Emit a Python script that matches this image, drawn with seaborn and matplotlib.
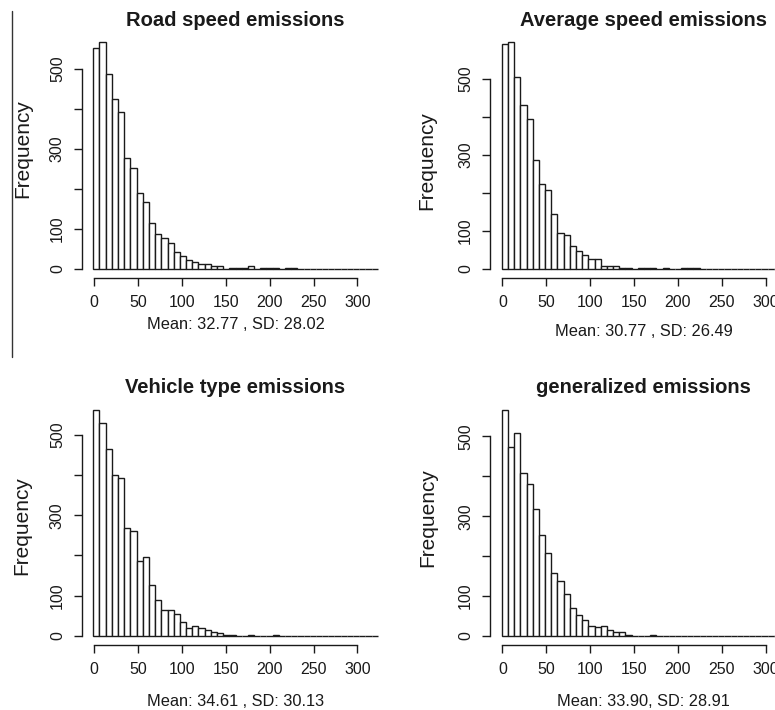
import numpy as np
import pandas as pd
import matplotlib
matplotlib.use("Agg")
import matplotlib.pyplot as plt
from matplotlib.lines import Line2D
import seaborn as sns

# ---------------- data (counts per bin) ----------------
titles = ["Road speed emissions", "Average speed emissions",
          "Vehicle type emissions", "generalized emissions"]
stats_text = ["Mean: 32.77 , SD: 28.02", "Mean: 30.77 , SD: 26.49",
              "Mean: 34.61 , SD: 30.13", "Mean: 33.90, SD: 28.91"]

road_speed = [554, 567, 487, 425, 392, 278, 253, 189, 166, 114, 87, 77, 64, 42,
              33, 23, 18, 12, 12, 6, 6, 0, 2, 2, 2, 6, 0, 2, 2, 2, 0, 2, 2,
              0, 0, 0, 0, 0, 0, 0, 0, 0, 0, 0, 0, 0]
average_speed = [590, 595, 503, 431, 394, 285, 222, 207, 144, 95, 88, 61, 47, 37,
                 26, 26, 8, 8, 8, 2, 2, 0, 2, 1, 2, 0, 2, 0, 0, 2, 2, 2,
                 0, 0, 0, 0, 0, 0, 0, 0, 0, 0, 0, 0, 0, 0]
vehicle_type = [562, 530, 465, 401, 392, 267, 260, 186, 197, 126, 90, 64, 64, 55,
                36, 19, 26, 19, 14, 10, 7, 2, 2, 0, 0, 2, 0, 0, 0, 2,
                0, 0, 0, 0, 0, 0, 0, 0, 0, 0, 0, 0, 0, 0, 0, 0]
generalized = [567, 473, 509, 408, 382, 319, 254, 208, 157, 138, 106, 71, 52, 41,
               26, 22, 26, 16, 9, 9, 3, 0, 0, 0, 3,
               0, 0, 0, 0, 0, 0, 0, 0, 0, 0, 0, 0, 0, 0, 0, 0, 0, 0, 0, 0, 0]
series = [road_speed, average_speed, vehicle_type, generalized]

bin_width = 7.05
bin_starts = [-1.1, -0.7, -1.1, -0.7]

x_ticks = [0, 50, 100, 150, 200, 250, 300]
y_ticks = [0, 100, 200, 300, 400, 500]
y_ticklabels = ["0", "100", "", "300", "", "500"]

# ---------------- layout (pixels) ----------------
W, H = 775, 710
ink = "#1a1a1a"
axes_px = [(82.0, 33.3), (490.1, 33.3), (82.0, 400.6), (490.1, 400.6)]
aw, ah = 307.0, 244.5
ylabel_pos = [(-0.192, 0.53), (-0.205, 0.48), (-0.195, 0.49), (-0.204, 0.52)]
xlabel_y = [-0.193, -0.221, -0.231, -0.231]

sns.set_style("ticks")
plt.rcParams["font.family"] = ["Liberation Sans", "DejaVu Sans"]
plt.rcParams["axes.linewidth"] = 1.0

fig = plt.figure(figsize=(W / 100, H / 100), dpi=100)

for i in range(4):
    left, top = axes_px[i]
    ax = fig.add_axes([left / W, 1 - (top + ah) / H, aw / W, ah / H])
    counts = np.array(series[i], dtype=float)
    edges = bin_starts[i] + bin_width * np.arange(len(counts) + 1)
    centers = (edges[:-1] + edges[1:]) / 2
    df = pd.DataFrame({"emission": centers, "count": counts})
    sns.histplot(data=df, x="emission", weights="count", bins=[float(e) for e in edges],
                 stat="count", color="white", edgecolor=ink, linewidth=1.0,
                 alpha=1, ax=ax)
    m = counts.max()
    ax.set_xlim(-14, 336)
    ax.set_ylim(-0.04 * m, 1.04 * m)
    for s in ("top", "right"):
        ax.spines[s].set_visible(False)
    ax.spines["left"].set_bounds(0, 500)
    ax.spines["bottom"].set_bounds(0, 300)
    ax.spines["left"].set_color(ink)
    ax.spines["bottom"].set_color(ink)
    ax.set_xticks(x_ticks)
    ax.set_xticklabels([str(t) for t in x_ticks])
    ax.set_yticks(y_ticks)
    ax.set_yticklabels(y_ticklabels, rotation=90, va="center")
    ax.tick_params(axis="both", length=5.8, width=1.0, pad=6.5, labelsize=11.5,
                   colors=ink, direction="out")
    for lbl in ax.get_xticklabels() + ax.get_yticklabels():
        lbl.set_family(["Liberation Sans Narrow", "Liberation Sans", "DejaVu Sans"])
    ax.set_ylabel("Frequency", fontsize=15, color=ink)
    ax.yaxis.label.set_va("center")
    ax.yaxis.set_label_coords(*ylabel_pos[i])
    ax.set_xlabel(stats_text[i], fontsize=11.8, color=ink)
    ax.xaxis.label.set_va("center")
    ax.xaxis.set_label_coords(0.5, xlabel_y[i])
    ax.set_title(titles[i], fontsize=14.5, fontweight="bold", color=ink,
                 y=1.054, va="center", pad=0)
    ax.grid(False)

fig.add_artist(Line2D([12 / W, 12 / W], [1 - 11 / H, 1 - 357 / H],
                      color="#333333", lw=1.0))

fig.savefig("out.png", dpi=100)
